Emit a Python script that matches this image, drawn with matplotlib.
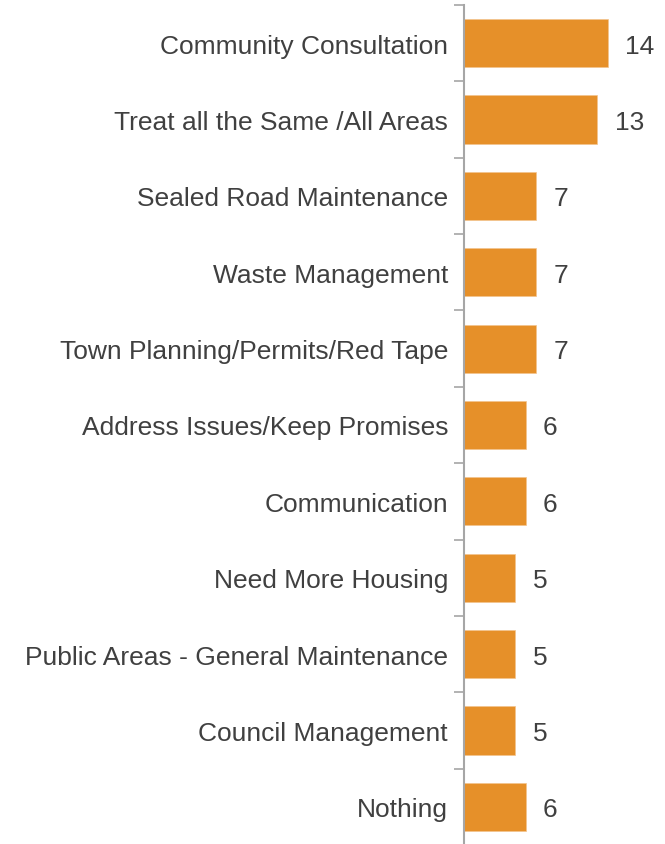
import matplotlib
matplotlib.use("Agg")
import matplotlib.pyplot as plt
import numpy as np

categories = [
    "Community Consultation",
    "Treat all the Same /All Areas",
    "Sealed Road Maintenance",
    "Waste Management",
    "Town Planning/Permits/Red Tape",
    "Address Issues/Keep Promises",
    "Communication",
    "Need More Housing",
    "Public Areas - General Maintenance",
    "Council Management",
    "Nothing",
]
values = [14, 13, 7, 7, 7, 6, 6, 5, 5, 5, 6]

plt.rcParams["font.family"] = ["Liberation Sans", "DejaVu Sans"]
text_color = "#404040"
bar_color = "#E69029"
axis_color = "#A6A6A6"

W, H = 665, 845
fig = plt.figure(figsize=(W / 100, H / 100), dpi=100)
ax_left, ax_right = 464, 665
ax_top, ax_bottom = 6, 846
ax = fig.add_axes([ax_left / W, 1 - ax_bottom / H,
                   (ax_right - ax_left) / W, (ax_bottom - ax_top) / H])

n = len(categories)
y = np.arange(n)
ax.barh(y, values, height=0.63, color=bar_color, edgecolor="#F2C48E", linewidth=0.5)
ax.set_ylim(n - 0.5, -0.5)
ax.set_xlim(0, (ax_right - ax_left) / 10.26)

for yi, v in zip(y, values):
    ax.annotate(str(v), xy=(v, yi), xytext=(12.5, 0), textcoords="offset points",
                va="center_baseline", ha="left", fontsize=19, color=text_color)

ax.set_yticks(y)
ax.set_yticklabels(categories, fontsize=19, color=text_color)
ax.tick_params(axis="y", which="major", length=0, pad=11.5)
ax.set_yticks(np.arange(-0.5, n, 1.0), minor=True)
ax.tick_params(axis="y", which="minor", length=7, width=1.2, color=axis_color, direction="out")

ax.set_xticks([])
for s in ["top", "right", "bottom"]:
    ax.spines[s].set_visible(False)
ax.spines["left"].set_color(axis_color)
ax.spines["left"].set_linewidth(1.5)

fig.savefig("out.png", dpi=100)
